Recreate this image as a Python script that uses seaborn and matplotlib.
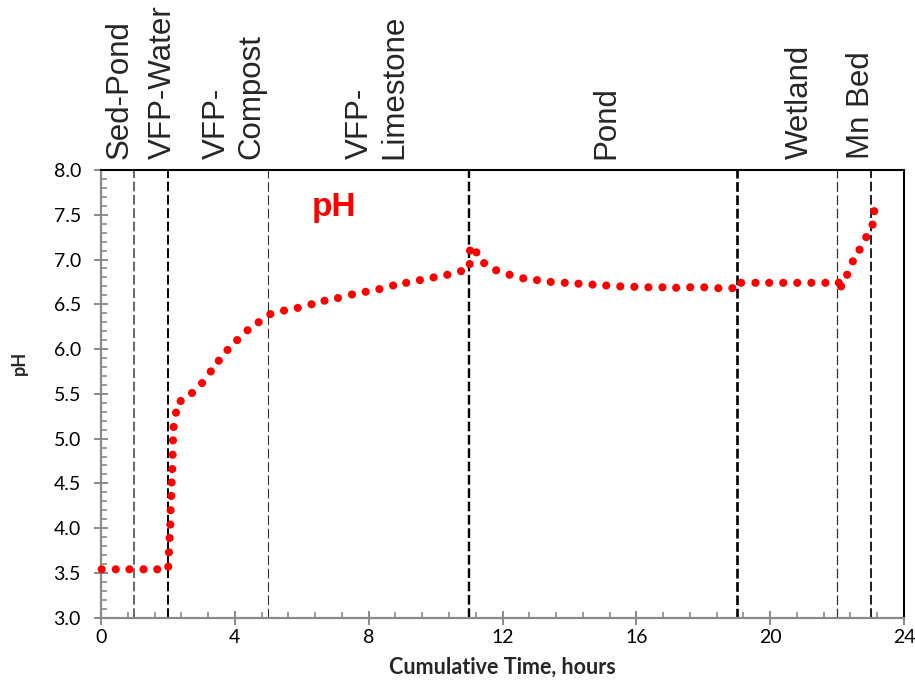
import matplotlib
matplotlib.use("Agg")
import matplotlib.pyplot as plt
import seaborn as sns
import pandas as pd

# ---- data (each dot of the dotted pH trace) ----
time_h = [0.02, 0.44, 0.85, 1.27, 1.68, 2.01, 2.03, 2.05, 2.07, 2.08, 2.10, 2.11,
          2.13, 2.14, 2.15, 2.17, 2.24, 2.38, 2.72, 3.02, 3.28, 3.52, 3.78, 4.07,
          4.38, 4.71, 5.06, 5.47, 5.88, 6.29, 6.68, 7.08, 7.50, 7.91, 8.32, 8.73,
          9.12, 9.53, 9.94, 10.35, 10.76, 11.02, 11.03, 11.22, 11.45, 11.81, 12.21,
          12.62, 13.03, 13.44, 13.86, 14.27, 14.69, 15.10, 15.52, 15.94, 16.36,
          16.78, 17.19, 17.61, 18.03, 18.45, 18.87, 19.13, 19.56, 19.97, 20.39,
          20.81, 21.23, 21.65, 22.05, 22.12, 22.30, 22.47, 22.67, 22.87, 23.06, 23.11]
ph = [3.54, 3.54, 3.54, 3.54, 3.54, 3.57, 3.73, 3.89, 4.04, 4.20, 4.36, 4.51,
      4.66, 4.82, 4.98, 5.13, 5.29, 5.42, 5.51, 5.62, 5.75, 5.87, 5.99, 6.10,
      6.21, 6.30, 6.39, 6.43, 6.46, 6.50, 6.54, 6.57, 6.61, 6.64, 6.67, 6.71,
      6.74, 6.77, 6.80, 6.83, 6.87, 6.95, 7.10, 7.08, 6.96, 6.88, 6.83,
      6.79, 6.77, 6.75, 6.74, 6.73, 6.72, 6.71, 6.70, 6.695, 6.69,
      6.69, 6.685, 6.69, 6.69, 6.68, 6.68, 6.74, 6.74, 6.74, 6.74,
      6.74, 6.74, 6.74, 6.74, 6.70, 6.83, 6.98, 7.11, 7.25, 7.39, 7.54]

boundaries = [1, 2, 5, 11, 19, 22, 23]
stage_labels = ["Sed-Pond", "VFP-Water", "VFP-\nCompost", "VFP-\nLimestone",
                "Pond", "Wetland", "Mn Bed"]
stage_label_x = [0.55, 1.84, 3.99, 8.26, 15.11, 20.88, 22.70]

x_ticks = [0, 4, 8, 12, 16, 20, 24]
y_ticks = [3.0, 3.5, 4.0, 4.5, 5.0, 5.5, 6.0, 6.5, 7.0, 7.5, 8.0]

df = pd.DataFrame({"time": time_h, "pH": ph})

sns.set_theme(style="white")
plt.rcParams["font.family"] = ["Lato", "DejaVu Sans"]
plt.rcParams["lines.scale_dashes"] = False

fig = plt.figure(figsize=(9.15, 6.86), dpi=100)
ax = fig.add_axes([0.1104, 0.0996, 0.8776, 0.6526])

# boundary lines (style per line)
line_styles = [
    dict(color="#5a5a5a", lw=1.3),
    dict(color="#000000", lw=1.4),
    dict(color="#303030", lw=0.8),
    dict(color="#000000", lw=1.7),
    dict(color="#000000", lw=1.9),
    dict(color="#303030", lw=0.9),
    dict(color="#202020", lw=1.4),
]
for xb, st in zip(boundaries, line_styles):
    ax.axvline(xb, linestyle=(0, (7.0, 2.6)), zorder=1, **st)

sns.scatterplot(data=df, x="time", y="pH", color="#ff0000", s=34,
                edgecolor="none", linewidth=0, ax=ax, clip_on=False, zorder=3)

ax.set_xlim(0, 24)
ax.set_ylim(3.0, 8.0)
ax.set_xticks(x_ticks)
ax.set_xticklabels([str(v) for v in x_ticks])
ax.set_yticks(y_ticks)
ax.set_yticklabels([f"{v:.1f}" for v in y_ticks])
ax.xaxis.set_minor_locator(matplotlib.ticker.MultipleLocator(0.8))
ax.yaxis.set_minor_locator(matplotlib.ticker.MultipleLocator(0.1))

gray = "#8a8a8a"
ax.tick_params(axis="both", which="major", direction="inout", length=10,
               width=1.4, color=gray, labelsize=14, labelcolor="black")
ax.tick_params(axis="x", which="major", pad=3, bottom=True)
ax.tick_params(axis="y", which="major", pad=9.5, left=True)
ax.tick_params(axis="both", which="minor", direction="in", length=4,
               width=1.2, color=gray)
ax.tick_params(axis="x", which="minor", bottom=True)
ax.tick_params(axis="y", which="minor", left=True)

for side in ["left", "bottom"]:
    ax.spines[side].set_color(gray)
    ax.spines[side].set_linewidth(1.6)
for side in ["top", "right"]:
    ax.spines[side].set_color("black")
    ax.spines[side].set_linewidth(1.5)

ax.set_xlabel("Cumulative Time, hours", fontsize=15.5, fontweight="bold", labelpad=8)
ax.set_ylabel("pH", fontsize=13, fontweight="bold")
ax.yaxis.set_label_coords(-0.091, 0.569)

for lab, lx in zip(stage_labels, stage_label_x):
    ax.text(lx, 1.024, lab, transform=ax.get_xaxis_transform(), rotation=90,
            ha="center", va="bottom", multialignment="left",
            fontsize=22.5, family=["Liberation Sans", "DejaVu Sans"])

ax.text(6.96, 7.486, "pH", color="#ff0000", fontsize=24, fontweight="bold",
        ha="center", va="baseline", family=["Liberation Sans", "DejaVu Sans"])

fig.savefig("out.png", dpi=100)
